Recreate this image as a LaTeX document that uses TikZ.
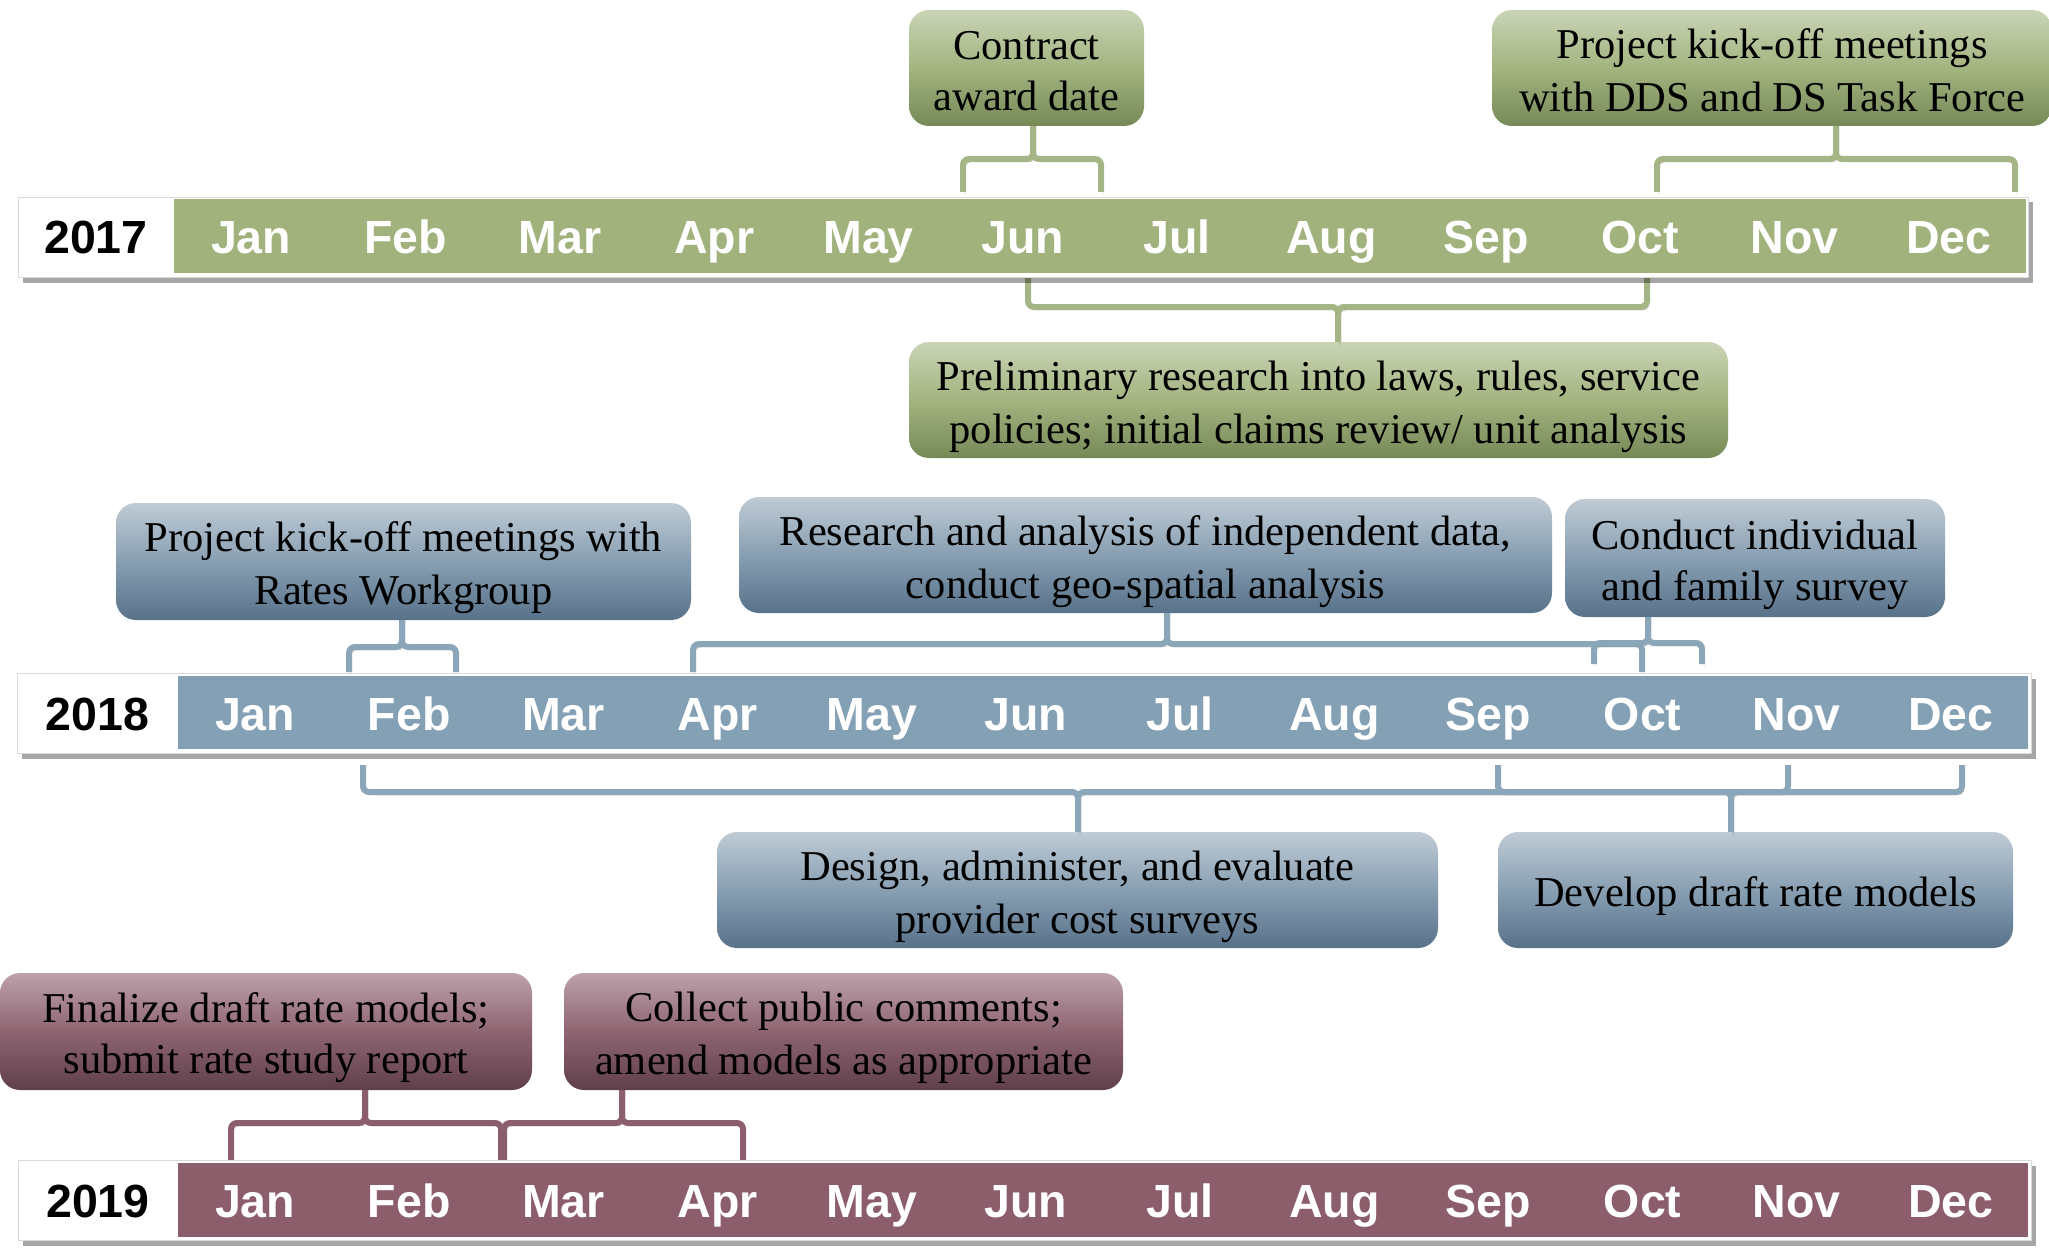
\documentclass[tikz,border=0pt]{standalone}
\usepackage{fontspec}
\setmainfont{Liberation Serif}
\setsansfont{Liberation Sans}
\usetikzlibrary{shadows}
\definecolor{gband}{HTML}{A1B27D}
\definecolor{bband}{HTML}{84A0B4}
\definecolor{mband}{HTML}{8C5E6C}
\definecolor{gbrk}{HTML}{A5B585}
\definecolor{bbrk}{HTML}{8CA6B9}
\definecolor{mbrk}{HTML}{8C5E6C}
\definecolor{gtop}{HTML}{C9D4B6}
\definecolor{gmid}{HTML}{A3B47F}
\definecolor{gbot}{HTML}{758957}
\definecolor{btop}{HTML}{BFCBD5}
\definecolor{bmid}{HTML}{889FB2}
\definecolor{bbot}{HTML}{58728A}
\definecolor{mtop}{HTML}{BDA1AB}
\definecolor{mmid}{HTML}{8E6572}
\definecolor{mbot}{HTML}{5F3F4A}
\newcommand{\lnstrut}{\rule[-8.5pt]{0pt}{51pt}}
\begin{document}
\begin{tikzpicture}[x=1pt,y=-1pt,
  boxbase/.style={rounded corners=20pt, inner sep=0pt, align=center,
    font=\fontsize{42.5}{51}\selectfont, text=black},
  gbox/.style={boxbase, top color=gtop, bottom color=gbot, middle color=gmid},
  bbox/.style={boxbase, top color=btop, bottom color=bbot, middle color=bmid},
  mbox/.style={boxbase, top color=mtop, bottom color=mbot, middle color=mmid},
  bandframe/.style={draw=black!15, line width=1pt, fill=white, inner sep=0pt,
    anchor=north west,
    drop shadow={shadow xshift=4pt, shadow yshift=-5pt, fill=black, opacity=0.35}},
  bandfill/.style={inner sep=0pt, anchor=north west, draw=none},
  month/.style={font=\sffamily\bfseries\fontsize{46.5}{50}\selectfont, text=white,
    anchor=base, inner sep=0pt},
  year/.style={month, text=black},
  brk/.style={line width=6pt, rounded corners=6pt,
    preaction={draw=black, opacity=0.3, transform canvas={xshift=2pt,yshift=-3pt}}},
  gbr/.style={brk, draw=gbrk},
  bbr/.style={brk, draw=bbrk},
  mbr/.style={brk, draw=mbrk}]
\useasboundingbox (0,0) rectangle (2049,1249);
\fill[white] (0,0) rectangle (2049,1249);
\clip (0,0) rectangle (2049,1249);

% ---------- boxes ----------
\node[gbox, minimum width=235, minimum height=116] (contract) at (1026.5,68)
  {\lnstrut Contract\\\lnstrut award date};
\node[gbox, minimum width=560, minimum height=116] (dds) at (1772,68)
  {\lnstrut Project kick-off meetings\\\lnstrut with DDS and DS Task Force};
\node[gbox, minimum width=819, minimum height=116] (prelim) at (1318.5,400)
  {\lnstrut Preliminary research into laws, rules, service\\\lnstrut policies; initial claims review/ unit analysis};
\node[bbox, minimum width=575, minimum height=117] (rates) at (403.5,561.5)
  {\lnstrut Project kick-off meetings with\\\lnstrut Rates Workgroup};
\node[bbox, minimum width=813, minimum height=116] (research) at (1145.5,555)
  {\lnstrut Research and analysis of independent data,\\\lnstrut conduct geo-spatial analysis};
\node[bbox, minimum width=380, minimum height=118] (survey) at (1755,558)
  {\lnstrut Conduct individual\\\lnstrut and family survey};
\node[bbox, minimum width=721, minimum height=116] (design) at (1077.5,890)
  {\lnstrut Design, administer, and evaluate\\\lnstrut provider cost surveys};
\node[bbox, minimum width=515, minimum height=116] (develop) at (1755.5,890)
  {\lnstrut Develop draft rate models};
\node[mbox, minimum width=532, minimum height=117] (finalize) at (266,1031.5)
  {\lnstrut Finalize draft rate models;\\\lnstrut submit rate study report};
\node[mbox, minimum width=559, minimum height=117] (collect) at (843.5,1031.5)
  {\lnstrut Collect public comments;\\\lnstrut amend models as appropriate};

% ---------- brackets ----------
% 2017
\draw[gbr] (963,192) |- (1033,159) -- ([xshift=6.5pt]contract.south);
\draw[gbr] ([xshift=6.5pt]contract.south) -- (1033,159) -| (1101,192);
\draw[gbr] (1657,192) |- (1836,159) -- ([xshift=64pt]dds.south);
\draw[gbr] ([xshift=64pt]dds.south) -- (1836,159) -| (2015,192);
\draw[gbr] (1028,278) |- (1338,307) -- ([xshift=19.5pt]prelim.north);
\draw[gbr] ([xshift=19.5pt]prelim.north) -- (1338,307) -| (1647,278);
% 2018 above
\draw[bbr] (349,672) |- (402,647) -- ([xshift=-1.5pt]rates.south);
\draw[bbr] ([xshift=-1.5pt]rates.south) -- (402,647) -| (456,672);
\draw[bbr] (693,672) |- (1167,644) -- ([xshift=21.5pt]research.south);
\draw[bbr] ([xshift=21.5pt]research.south) -- (1167,644) -| (1642,672);
\draw[bbr] (1594,664) |- (1648,643) -- ([xshift=-107pt]survey.south);
\draw[bbr] ([xshift=-107pt]survey.south) -- (1648,643) -| (1702,664);
% 2018 below
\draw[bbr] (363,765) |- (1078,792) -- ([xshift=0.5pt]design.north);
\draw[bbr] ([xshift=0.5pt]design.north) -- (1078,792) -| (1788,765);
\draw[bbr] (1498,765) |- (1731,792) -- ([xshift=-24.5pt]develop.north);
\draw[bbr] ([xshift=-24.5pt]develop.north) -- (1731,792) -| (1962,765);
% 2019
\draw[mbr] (231,1160) |- (365,1123) -- ([xshift=99pt]finalize.south);
\draw[mbr] ([xshift=99pt]finalize.south) -- (365,1123) -| (501,1160);
\draw[mbr] (504,1160) |- (622,1123) -- ([xshift=-221.5pt]collect.south);
\draw[mbr] ([xshift=-221.5pt]collect.south) -- (622,1123) -| (743,1160);

% ---------- bars ----------
\node[bandframe, minimum width=2010, minimum height=80] (f17) at (18,197) {};
\node[bandfill, fill=gband, minimum width=1852, minimum height=74] (b17) at (174,199) {};
\node[year] (y17) at (96,253.5) {2017};
\foreach \m [count=\i from 0] in {Jan,Feb,Mar,Apr,May,Jun,Jul,Aug,Sep,Oct,Nov,Dec}
  \node[month] (m17-\i) at ({174+(\i+0.5)*154.33},253.5) {\m};

\node[bandframe, minimum width=2014, minimum height=80] (f18) at (17,673) {};
\node[bandfill, fill=bband, minimum width=1850, minimum height=73] (b18) at (178,676) {};
\node[year] (y18) at (97.5,730) {2018};
\foreach \m [count=\i from 0] in {Jan,Feb,Mar,Apr,May,Jun,Jul,Aug,Sep,Oct,Nov,Dec}
  \node[month] (m18-\i) at ({178+(\i+0.5)*154.17},730) {\m};

\node[bandframe, minimum width=2013, minimum height=80] (f19) at (18,1160) {};
\node[bandfill, fill=mband, minimum width=1850, minimum height=74] (b19) at (178,1163) {};
\node[year] (y19) at (98,1217.5) {2019};
\foreach \m [count=\i from 0] in {Jan,Feb,Mar,Apr,May,Jun,Jul,Aug,Sep,Oct,Nov,Dec}
  \node[month] (m19-\i) at ({178+(\i+0.5)*154.17},1217.5) {\m};
\end{tikzpicture}
\end{document}
